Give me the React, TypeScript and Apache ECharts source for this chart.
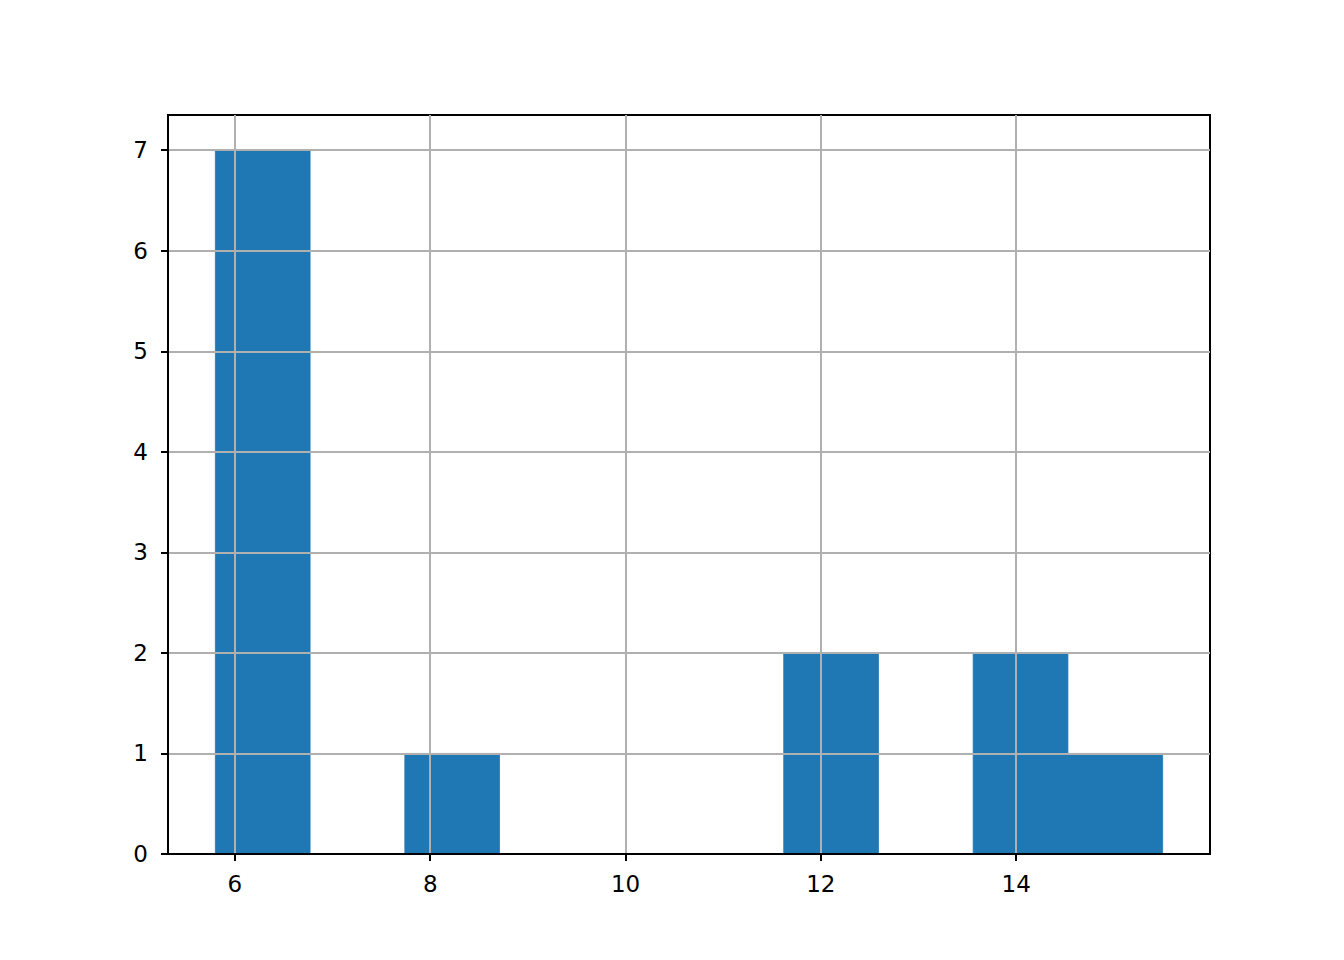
import React, { useEffect, useRef } from "react";
import * as echarts from "echarts";

const binEdges = [5.8, 6.77, 7.74, 8.71, 9.68, 10.65, 11.62, 12.59, 13.56, 14.53, 15.5];
const counts = [7, 0, 1, 0, 0, 0, 2, 0, 2, 1];
const xTicks = [6, 8, 10, 12, 14];
const yTicks = [0, 1, 2, 3, 4, 5, 6, 7];

export default function App() {
  const ref = useRef<HTMLDivElement>(null);
  useEffect(() => {
    document.body.style.margin = "0";
    const chart = echarts.init(ref.current!, null, { renderer: "svg" });
    const data = counts.map((c, i) => [binEdges[i], binEdges[i + 1], c]);
    const font = { fontFamily: "DejaVu Sans", fontSize: 23, color: "#000" };
    chart.setOption({
      animation: false,
      backgroundColor: "#fff",
      grid: {
        left: 168,
        top: 115,
        right: 134,
        bottom: 106,
        show: true,
        borderColor: "#000",
        borderWidth: 2,
        backgroundColor: "transparent",
      },
      xAxis: {
        type: "value",
        min: 5.315,
        max: 15.985,
        z: 3,
        axisLine: { show: true, onZero: false, lineStyle: { color: "#000", width: 2 } },
        axisTick: { show: true, length: 7, lineStyle: { color: "#000", width: 2 }, customValues: xTicks },
        axisLabel: { ...font, margin: 18, customValues: xTicks },
        splitLine: { show: true, lineStyle: { color: "#b0b0b0", width: 2 } },
      },
      yAxis: {
        type: "value",
        min: 0,
        max: 7.35,
        z: 3,
        axisLine: { show: true, lineStyle: { color: "#000", width: 2 } },
        axisTick: { show: true, length: 7, lineStyle: { color: "#000", width: 2 }, customValues: yTicks },
        axisLabel: { ...font, margin: 20, customValues: yTicks },
        splitLine: { show: true, lineStyle: { color: "#b0b0b0", width: 2 } },
      },
      series: [
        {
          type: "custom",
          z: 2,
          data,
          renderItem: (params: any, api: any) => {
            const p0 = api.coord([api.value(0), api.value(2)]);
            const p1 = api.coord([api.value(1), 0]);
            return {
              type: "rect",
              shape: { x: p0[0], y: p0[1], width: p1[0] - p0[0], height: p1[1] - p0[1] },
              style: { fill: "#1f77b4", stroke: api.value(2) > 0 ? "#1f77b4" : null, lineWidth: 0.8 },
            };
          },
        },
      ],
    });
    return () => chart.dispose();
  }, []);
  return <div ref={ref} style={{ width: 1344, height: 960 }} />;
}
